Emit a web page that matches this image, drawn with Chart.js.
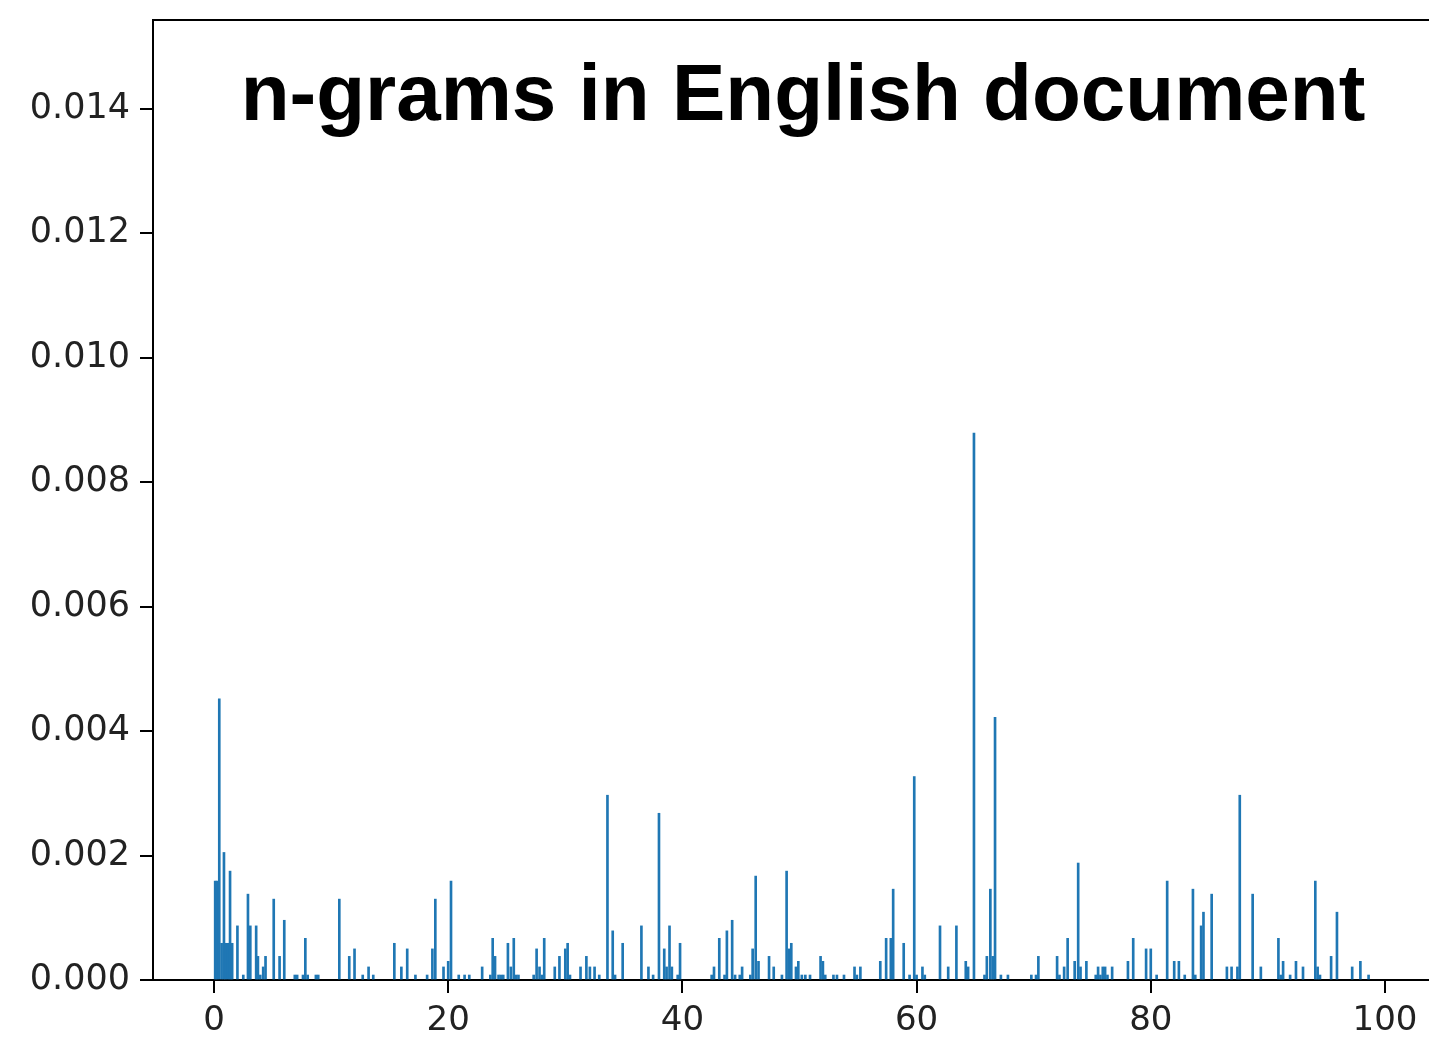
<!DOCTYPE html>
<html>
<head>
<meta charset="utf-8">
<script src="https://cdn.jsdelivr.net/npm/chart.js@4/dist/chart.umd.min.js"></script>
<style>
html,body{margin:0;padding:0;background:#fff;}
#wrap{width:1429px;height:1037px;position:relative;}
</style>
</head>
<body>
<div id="wrap"><canvas id="c" width="1429" height="1037"></canvas></div>
<script>
const chartTitle = "n-grams in English document";
const xPositions = [0.1,0.25,0.45,0.65,0.85,1.0,1.2,1.37,1.55,2.0,2.5,2.9,3.1,3.6,3.75,3.95,4.2,4.4,5.1,5.6,6.0,6.9,7.1,7.6,7.8,8.0,8.7,8.9,10.7,11.55,12.0,12.7,13.2,13.6,15.4,16.0,16.5,17.2,18.2,18.65,18.9,19.6,20.0,20.24,20.9,21.4,21.8,22.9,23.6,23.8,24.0,24.3,24.5,24.7,25.1,25.35,25.6,25.8,26.0,27.3,27.55,27.8,28.0,28.2,29.1,29.5,30.0,30.2,30.4,31.3,31.8,32.1,32.5,32.9,33.6,34.05,34.25,34.9,36.5,37.1,37.5,38.0,38.45,38.65,38.9,39.1,39.6,39.8,42.5,42.7,43.15,43.6,43.8,44.25,44.5,44.9,45.1,45.8,46.0,46.26,46.5,47.4,47.8,48.5,48.9,49.1,49.3,49.7,49.9,50.2,50.5,50.9,51.8,52.0,52.2,52.9,53.2,53.8,54.7,54.9,55.2,56.9,57.4,57.8,58.0,58.9,59.4,59.8,60.0,60.5,60.7,62.0,62.7,63.4,64.2,64.4,64.9,65.8,66.0,66.3,66.5,66.7,67.2,67.8,69.8,70.2,70.4,72.0,72.2,72.6,72.9,73.5,73.8,74.0,74.5,75.3,75.5,75.7,75.9,76.1,76.3,76.7,78.05,78.5,79.6,80.0,80.5,81.4,82.0,82.4,82.9,83.6,83.8,84.3,84.5,85.2,86.5,86.9,87.4,87.6,88.7,89.4,90.9,91.1,91.3,91.9,92.4,93.0,94.05,94.25,94.45,95.4,95.9,97.2,97.9,98.6];
const frequencies = [0.00159,0.00159,0.00452,0.00059,0.00205,0.00059,0.00059,0.00175,0.00059,0.00087,0.00008,0.00138,0.00087,0.00087,0.00038,0.00008,0.00021,0.00038,0.0013,0.00038,0.00096,0.00008,0.00008,0.00008,0.00067,0.00008,0.00008,0.00008,0.0013,0.00038,0.0005,0.00008,0.00021,0.00008,0.00059,0.00021,0.0005,0.00008,0.00008,0.0005,0.0013,0.00021,0.0003,0.00159,0.00008,0.00008,0.00008,0.00021,0.00008,0.00067,0.00038,0.00008,0.00008,0.00008,0.00059,0.00021,0.00067,0.00008,0.00008,0.00008,0.0005,0.00021,0.00008,0.00067,0.00021,0.00038,0.0005,0.00059,0.00008,0.00021,0.00038,0.00021,0.00021,0.00008,0.00297,0.00079,0.00008,0.00059,0.00087,0.00021,0.00008,0.00268,0.0005,0.00021,0.00087,0.00021,0.00008,0.00059,0.00008,0.00021,0.00067,0.00008,0.00079,0.00096,0.00008,0.00008,0.00021,0.00008,0.0005,0.00167,0.0003,0.00038,0.00021,0.00008,0.00175,0.0005,0.00059,0.00021,0.0003,0.00008,0.00008,0.00008,0.00038,0.0003,0.00008,0.00008,0.00008,0.00008,0.00021,0.00008,0.00021,0.0003,0.00067,0.00067,0.00146,0.00059,0.00008,0.00327,0.00008,0.00021,0.00008,0.00087,0.00021,0.00087,0.0003,0.00021,0.00879,0.00008,0.00038,0.00146,0.00038,0.00422,0.00008,0.00008,0.00008,0.00008,0.00038,0.00038,0.00008,0.00021,0.00067,0.0003,0.00188,0.00021,0.0003,0.00008,0.00021,0.00008,0.00021,0.00021,0.00008,0.00021,0.0003,0.00067,0.0005,0.0005,0.00008,0.00159,0.0003,0.0003,0.00008,0.00146,0.00008,0.00087,0.00109,0.00138,0.00021,0.00021,0.00021,0.00297,0.00138,0.00021,0.00067,0.00008,0.0003,0.00008,0.0003,0.00021,0.00159,0.00021,0.00008,0.00038,0.00109,0.00021,0.0003,0.00008];
const xTicks = [0,20,40,60,80,100];
const yTicks = [0.000,0.002,0.004,0.006,0.008,0.010,0.012,0.014];

const points = xPositions.map((x,i)=>({x:x, y:frequencies[i]}));

const frame = {
  id:'frame',
  afterDraw(chart){
    const {ctx, chartArea:a} = chart;
    ctx.save();
    ctx.strokeStyle = '#000';
    ctx.lineWidth = 2;
    ctx.beginPath();
    ctx.moveTo(a.left-1, a.top);
    ctx.lineTo(a.right+2, a.top);
    ctx.stroke();
    ctx.fillStyle = '#000';
    ctx.font = 'bold 80px "Liberation Sans", Arial, sans-serif';
    ctx.textAlign = 'center';
    ctx.textBaseline = 'alphabetic';
    ctx.fillText(chartTitle, 803, 120);
    ctx.restore();
  }
};

new Chart(document.getElementById('c'), {
  type:'bar',
  data:{
    datasets:[{
      data: points,
      backgroundColor:'#1f77b4',
      borderWidth:0,
      barThickness:2,
      grouped:false
    }]
  },
  options:{
    responsive:false,
    animation:false,
    events:[],
    layout:{padding:{top:20,right:0,left:0,bottom:0}},
    plugins:{legend:{display:false}, tooltip:{enabled:false}, title:{display:false}},
    scales:{
      x:{
        type:'linear',
        min:-5.21,
        max:103.76,
        offset:false,
        afterBuildTicks(s){ s.ticks = xTicks.map(v=>({value:v})); },
        afterFit(s){ s.height = 57; s.paddingLeft = 0; s.paddingRight = 0; },
        grid:{display:true, offset:false, drawOnChartArea:false, drawTicks:true, tickLength:13, color:'#000', lineWidth:2},
        border:{display:true, color:'#000', width:2},
        ticks:{padding:8, color:'#222', font:{family:'"DejaVu Sans"', size:34}, maxRotation:0, autoSkip:false,
          callback:(v)=>String(v)}
      },
      y:{
        type:'linear',
        min:0,
        max:0.01543,
        afterBuildTicks(s){ s.ticks = yTicks.map(v=>({value:v})); },
        afterFit(s){ s.width = 153; s.paddingTop = 0; s.paddingBottom = 0; },
        grid:{display:true, offset:false, drawOnChartArea:false, drawTicks:true, tickLength:13, color:'#000', lineWidth:2},
        border:{display:true, color:'#000', width:2},
        ticks:{padding:10, color:'#222', font:{family:'"DejaVu Sans"', size:35}, autoSkip:false,
          callback:(v)=>Number(v).toFixed(3)}
      }
    }
  },
  plugins:[frame]
});
</script>
</body>
</html>
